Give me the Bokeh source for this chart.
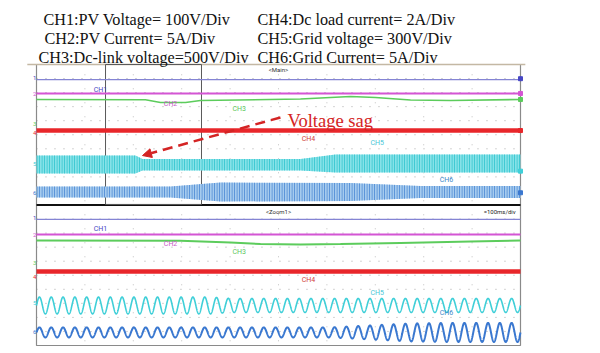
import numpy as np
from bokeh.plotting import figure
from bokeh.models import Range1d, Arrow, NormalHead
from bokeh.core.properties import value
from bokeh.embed import file_html
from bokeh.resources import INLINE

# ---------------- data (scope divisions: x 0..10; bottom panel y 0..10, top panel y 10..20)
legend_left = ["CH1:PV Voltage= 100V/Div", "CH2:PV Current= 5A/Div", "CH3:Dc-link voltage=500V/Div"]
legend_right = ["CH4:Dc load current= 2A/Div", "CH5:Grid voltage= 300V/Div", "CH6:Grid Current= 5A/Div"]
legend_left_x = [0.145, 0.165, 0.041]
legend_right_x = [4.566, 4.566, 4.566]
legend_y = [23.2, 21.78, 20.43]

channels = ["CH1", "CH2", "CH3", "CH4", "CH5", "CH6"]
label_colors = ["#4646c4", "#c858c8", "#5cc85c", "#d04040", "#46c6d6", "#3a86c8"]
label_x = [1.32, 2.77, 4.19, 5.62, 7.04, 8.47]
main_label_y = [18.22, 17.22, 16.80, 14.73, 14.38, 11.81]
zoom_label_y = [8.26, 7.19, 6.62, 4.63, 3.77, 2.28]

# left reference markers (1..6) and right markers of the main window
marker_digits = ["1", "2", "3", "4", "5", "6"]
main_marker_y = [19.05, 17.9, 15.8, 15.1, 12.95, 10.87]
zoom_marker_y = [9.05, 7.85, 5.85, 4.85, 2.99, 0.93]
right_marker_y = [18.99, 17.94, 17.51, 15.30, 12.41, 10.87]
marker_colors = ["#4646c4", "#d455d4", "#5ccc5c", "#e8262a", "#3fcfd8", "#3a78d0"]

# DC traces
ground_main, ground_zoom = 18.93, 8.97
ch1_main, ch1_zoom = 17.94, 7.90
ch4_main, ch4_zoom = 15.30, 5.27

ch2_main_x = [0, 2.252, 2.562, 3.079, 3.388, 5.455, 6.074, 6.488, 7.004, 7.727, 8.554, 10]
ch2_main_y = [17.51, 17.49, 17.30, 17.30, 17.44, 17.54, 17.65, 17.72, 17.65, 17.47, 17.44, 17.51]
ch2_zoom_x = [0, 2.975, 4.008, 4.628, 5.455, 6.281, 7.521, 8.967, 10]
ch2_zoom_y = [7.47, 7.45, 7.33, 7.22, 7.19, 7.22, 7.30, 7.40, 7.47]

# AC envelopes in the main window
ch5_env_x = [0, 2.045, 2.19, 5.455, 6.178, 10]
ch5_env_hi = [13.52, 13.52, 13.27, 13.27, 13.59, 13.59]
ch5_env_lo = [12.24, 12.24, 12.46, 12.46, 12.31, 12.31]
ch6_env_x = [0, 2.769, 3.802, 6.488, 7.934, 10]
ch6_env_hi = [11.32, 11.32, 11.60, 11.57, 11.35, 11.35]
ch6_env_lo = [10.53, 10.53, 10.25, 10.28, 10.50, 10.50]

# AC traces in the zoom window
zoom_cycles = 41
ch5_zoom_center = 2.85
ch5_amp_x = [0, 3.6, 4.0, 10]
ch5_amp = [0.60, 0.60, 0.50, 0.50]
ch6_zoom_center = 0.93
ch6_amp_x = [0, 6.074, 6.901, 7.727, 8.554, 10]
ch6_amp = [0.36, 0.36, 0.50, 0.64, 0.68, 0.68]

zoom_box = dict(left=1.426, right=3.409, bottom=10.04, top=20)

# ---------------- figure
p = figure(width=600, height=353, x_range=Range1d(-0.7438, 11.653), y_range=Range1d(-0.569, 24.555),
           output_backend="svg", toolbar_location=None, min_border=0,
           x_axis_type=None, y_axis_type=None)
p.grid.visible = False
p.outline_line_color = None
p.background_fill_color = "white"
p.border_fill_color = "white"

# dotted graticule
rows = [r for r in range(1, 20) if r != 10]
p.multi_line(xs=[[0, 10]] * len(rows), ys=[[r, r] for r in rows], line_color="#a9a9a9",
             line_width=1, line_dash="1 8")
cols = list(range(1, 10))
p.multi_line(xs=[[c, c] for c in cols], ys=[[0.3, 19.7]] * len(cols), line_color="#c0c0c0",
             line_width=1, line_dash="1 13")

# frame
p.quad(left=0, right=10, bottom=0, top=20, fill_color=None, line_color="#8a8a8a", line_width=1.2)
p.segment(x0=-0.19, y0=20, x1=10.1, y1=20, line_color="#c4b8a4", line_width=1.3)
p.segment(x0=0, y0=10, x1=10, y1=10, line_color="#111111", line_width=2.2)
p.quad(fill_color=None, line_color="#5a5a5a", line_width=1, **zoom_box)

# ground lines
p.segment(x0=[0, 0], y0=[ground_main, ground_zoom], x1=[10, 10], y1=[ground_main, ground_zoom],
          line_color="#8484d4", line_width=1.2)

# CH1 / CH2 / CH4
p.segment(x0=[0, 0], y0=[ch1_main, ch1_zoom], x1=[10, 10], y1=[ch1_main, ch1_zoom],
          line_color="#d455d4", line_width=2)
p.line(ch2_main_x, ch2_main_y, line_color="#5ccc5c", line_width=1.6)
p.line(ch2_zoom_x, ch2_zoom_y, line_color="#5ccc5c", line_width=2)
p.segment(x0=[0, 0], y0=[ch4_main, ch4_zoom], x1=[10, 10], y1=[ch4_main, ch4_zoom],
          line_color="#e8262a", line_width=4.5)

# main window AC bands
p.varea(x=ch5_env_x, y1=ch5_env_lo, y2=ch5_env_hi, fill_color="#86e2e8",
        hatch_pattern="vertical_line", hatch_color="#2fc4ce", hatch_scale=2.5, hatch_weight=1)
p.varea(x=ch6_env_x, y1=ch6_env_lo, y2=ch6_env_hi, fill_color="#a6cbee",
        hatch_pattern="vertical_line", hatch_color="#4a88d4", hatch_scale=2.5, hatch_weight=1)

# zoom window AC traces
t = np.linspace(0, 10, 4000)
phase = 2 * np.pi * zoom_cycles * t / 10
ch5_wave = ch5_zoom_center + np.interp(t, ch5_amp_x, ch5_amp) * np.sin(phase)
ch6_wave = ch6_zoom_center + np.interp(t, ch6_amp_x, ch6_amp) * np.sin(phase)
p.line(t, ch5_wave, line_color="#3fcfd8", line_width=1.6)
p.line(t, ch6_wave, line_color="#3a78d0", line_width=2)

# channel labels
small = value("Roboto")
p.text(x=label_x, y=main_label_y, text=channels, text_color=label_colors, text_font=small,
       text_font_size="7px", text_align="center", text_baseline="middle")
p.text(x=label_x, y=zoom_label_y, text=channels, text_color=label_colors, text_font=small,
       text_font_size="7px", text_align="center", text_baseline="middle")
p.text(x=[-0.04] * 6, y=main_marker_y, text=marker_digits, text_color=marker_colors, text_font=small,
       text_font_size="6px", text_align="center", text_baseline="middle")
p.text(x=[-0.04] * 6, y=zoom_marker_y, text=marker_digits, text_color=marker_colors, text_font=small,
       text_font_size="6px", text_align="center", text_baseline="middle")
p.scatter(x=[10] * 6, y=right_marker_y, marker="square", size=4, fill_color=marker_colors,
          line_color=marker_colors)

# header labels
p.text(x=[5.0, 5.0], y=[19.64, 9.54], text=["<Main>", "<Zoom1>"], text_color="#333333", text_font=small,
       text_font_size="6px", text_align="center", text_baseline="middle")
p.text(x=[9.9], y=[9.54], text=["=100ms/div"], text_color="#222222", text_font=small,
       text_font_size="6px", text_align="right", text_baseline="middle")

# legend text
serif = value("Liberation Serif")
p.text(x=legend_left_x, y=legend_y, text=legend_left, text_font=serif, text_font_size="16.2px",
       text_color="#111111", text_baseline="alphabetic")
p.text(x=legend_right_x, y=legend_y, text=legend_right, text_font=serif, text_font_size="16.2px",
       text_color="#111111", text_baseline="alphabetic")

# annotation
red = "#d42424"
p.text(x=[5.186], y=[16.01], text=["Voltage sag"], text_font=serif, text_font_size="18.5px",
       text_color=red, text_baseline="alphabetic")
p.add_layout(Arrow(end=NormalHead(size=9, fill_color=red, line_color=red),
                   x_start=5.04, y_start=16.23, x_end=2.19, y_end=13.52,
                   line_color=red, line_width=2.5, line_dash="10 6"))

open("out.html", "w").write(file_html(p, INLINE))
